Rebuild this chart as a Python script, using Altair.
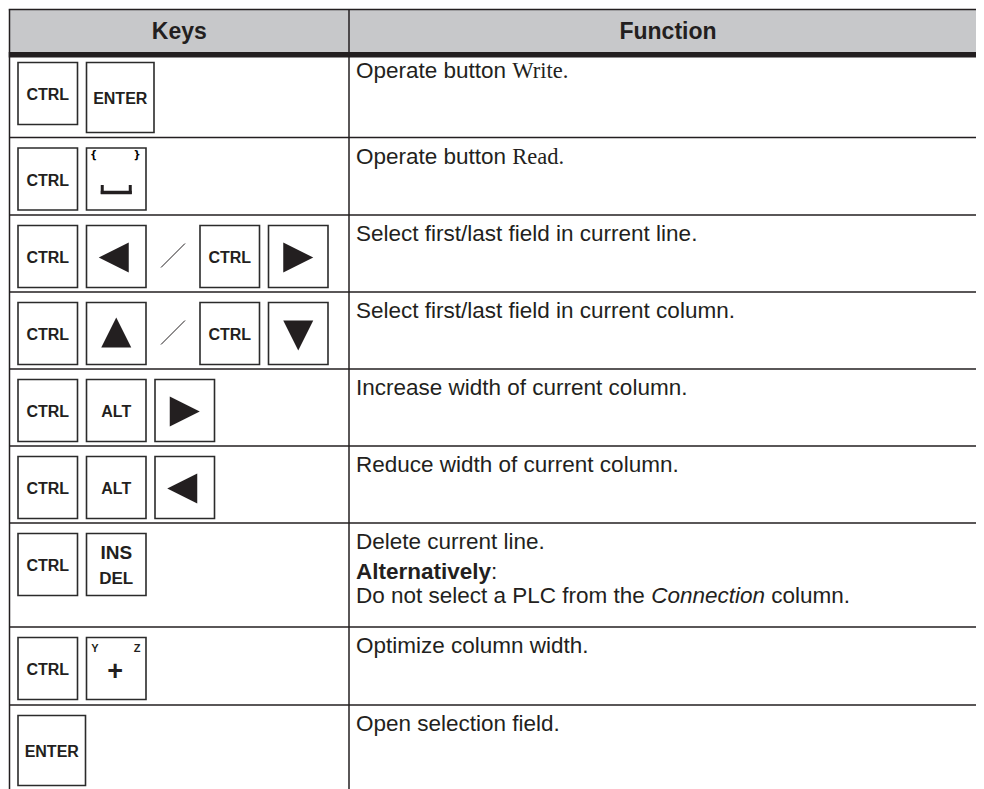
import altair as alt
import pandas as pd

# ---------------- content ----------------
HEADERS = ["Keys", "Function"]

KEY_ROWS = [
    ["CTRL", "ENTER"],
    ["CTRL", "SPACE"],
    ["CTRL", "LEFT", "/", "CTRL", "RIGHT"],
    ["CTRL", "UP", "/", "CTRL", "DOWN"],
    ["CTRL", "ALT", "RIGHT"],
    ["CTRL", "ALT", "LEFT"],
    ["CTRL", "INSDEL"],
    ["CTRL", "YZPLUS"],
    ["ENTER"],
]

# each row: list of lines; each line: list of (text, style) segments
FUNCTION_TEXT = [
    [[("Operate button ", "sans"), ("Write.", "serif")]],
    [[("Operate button ", "sans"), ("Read.", "serif")]],
    [[("Select first/last field in current line.", "sans")]],
    [[("Select first/last field in current column.", "sans")]],
    [[("Increase width of current column.", "sans")]],
    [[("Reduce width of current column.", "sans")]],
    [[("Delete current line.", "sans")],
     [("Alternatively", "bold"), (":", "sans")],
     [("Do not select a PLC from the ", "sans"), ("Connection", "italic"), (" column.", "sans")]],
    [[("Optimize column width.", "sans")]],
    [[("Open selection field.", "sans")]],
]

# ---------------- layout ----------------
ORIGIN = 8
W, H = 968, 781
INK = "#231f20"
HEADER_FILL = "#c7c8ca"
SANS = "Liberation Sans"
SERIF = "Liberation Serif"

TABLE_LEFT, TABLE_TOP, COL_DIV = 9.5, 9.5, 349
TABLE_RIGHT, TABLE_BOTTOM = 1000, 820
HEADER_BOTTOM, BAND_BOTTOM = 52, 57.5
ROW_TOPS = [52, 137.5, 215, 292, 369, 446, 523, 627, 705]
LINE_OFFSETS = [26, 56, 80]  # baselines of text lines below the row top

BODY_FS, HEAD_FS = 22.5, 23
TEXT_X = 356

KEY_X0, KEY_GAP, KEY_TOP_OFF = 18, 9, 10.5
KEY_W = {"ENTER": 67.5, "/": 36}
KEY_H = {"ENTER": 70}

REG = {' ': 278, '.': 278, ':': 278, '/': 278, 'a': 556, 'b': 556, 'c': 500, 'd': 556,
       'e': 556, 'f': 278, 'g': 556, 'h': 556, 'i': 222, 'j': 222, 'k': 500, 'l': 222,
       'm': 833, 'n': 556, 'o': 556, 'p': 556, 'q': 556, 'r': 333, 's': 500, 't': 278,
       'u': 556, 'v': 500, 'w': 722, 'x': 500, 'y': 500, 'z': 500, 'A': 667, 'C': 722,
       'D': 722, 'L': 556, 'O': 778, 'P': 667, 'S': 667, 'I': 278, 'R': 722}
BOLD = {'A': 722, 'l': 278, 't': 333, 'e': 556, 'r': 389, 'n': 611, 'a': 556, 'i': 278,
        'v': 556, 'y': 556, ':': 333}


def text_width(s, style, fs):
    table = BOLD if style == "bold" else REG
    return sum(table.get(c, 556) for c in s) / 1000.0 * fs


def X(f="x"):
    return alt.X(f"{f}:Q", scale=alt.Scale(domain=[ORIGIN, ORIGIN + W], nice=False, zero=False), axis=None)


def Y(f="y"):
    return alt.Y(f"{f}:Q", scale=alt.Scale(domain=[ORIGIN, ORIGIN + H], nice=False, zero=False, reverse=True), axis=None)


# ---------------- build tables ----------------
grid = [dict(x=TABLE_LEFT - 0.75, x2=TABLE_RIGHT, y=TABLE_TOP, y2=TABLE_TOP),
        dict(x=TABLE_LEFT, x2=TABLE_LEFT, y=TABLE_TOP, y2=TABLE_BOTTOM),
        dict(x=COL_DIV, x2=COL_DIV, y=TABLE_TOP, y2=TABLE_BOTTOM)]
for t in ROW_TOPS[1:]:
    grid.append(dict(x=TABLE_LEFT, x2=TABLE_RIGHT, y=t, y2=t))

keys, bold_labels, small_labels, tris, glyph_rules = [], [], [], [], []
TRI = {"LEFT": ("M-1,0L1,-1L1,1Z", -2.5, 32),
       "RIGHT": ("M1,0L-1,-1L-1,1Z", 0, 32),
       "UP": ("M0,-1L1,1L-1,1Z", 0, 30),
       "DOWN": ("M0,1L1,-1L-1,-1Z", 0, 33)}

for r, row in enumerate(KEY_ROWS):
    top = ROW_TOPS[r] + KEY_TOP_OFF
    x = KEY_X0
    for k in row:
        w = KEY_W.get(k, 59.5)
        h = KEY_H.get(k, 62)
        cx = x + w / 2
        if k == "/":
            glyph_rules.append(dict(x=cx - 12, y=top + 42, x2=cx + 12, y2=top + 18, sw=1.0))
        else:
            keys.append(dict(x=x, x2=x + w, y=top, y2=top + h))
            if k in ("CTRL", "ALT", "ENTER"):
                bold_labels.append(dict(x=cx, y=top + h / 2 + 1 + 0.36 * 16, text=k, fs=16))
            elif k in TRI:
                path, dx, dy = TRI[k]
                tris.append(dict(x=cx + dx, y=top + dy, shape=path, sz=900))
            elif k == "SPACE":
                small_labels.append(dict(x=x + 7, y=top + 10, text="{"))
                small_labels.append(dict(x=x + w - 9, y=top + 10, text="}"))
                glyph_rules.append(dict(x=cx - 15.5, y=top + 44.5, x2=cx + 15.5, y2=top + 44.5, sw=3.5))
                glyph_rules.append(dict(x=cx - 14, y=top + 37, x2=cx - 14, y2=top + 46, sw=3))
                glyph_rules.append(dict(x=cx + 14, y=top + 37, x2=cx + 14, y2=top + 46, sw=3))
            elif k == "INSDEL":
                bold_labels.append(dict(x=cx, y=top + 19 + 0.36 * 19, text="INS", fs=19))
                bold_labels.append(dict(x=cx, y=top + 44 + 0.36 * 17, text="DEL", fs=17))
            elif k == "YZPLUS":
                bold_labels.append(dict(x=x + 8.5, y=top + 14, text="Y", fs=11))
                bold_labels.append(dict(x=x + w - 9, y=top + 14, text="Z", fs=11))
                bold_labels.append(dict(x=cx - 1, y=top + 33.5 + 0.35 * 27, text="+", fs=27))
        x += w + KEY_GAP

texts = {"sans": [], "serif": [], "bold": [], "italic": []}
for r, lines in enumerate(FUNCTION_TEXT):
    for li, segs in enumerate(lines):
        x = TEXT_X
        y = ROW_TOPS[r] + LINE_OFFSETS[li]
        for s, style in segs:
            lead = len(s) - len(s.lstrip(" "))
            x += text_width(" " * lead, "sans", BODY_FS)
            body_s = s.lstrip(" ")
            texts[style].append(dict(x=x, y=y, text=body_s))
            x += text_width(body_s, style, BODY_FS)

headers = [dict(x=(TABLE_LEFT + COL_DIV) / 2, y=38.5, text=HEADERS[0]),
           dict(x=668, y=38.5, text=HEADERS[1])]

# ---------------- layers ----------------
header_bg = alt.Chart(pd.DataFrame([dict(x=TABLE_LEFT, x2=TABLE_RIGHT, y=TABLE_TOP, y2=HEADER_BOTTOM)])) \
    .mark_rect(color=HEADER_FILL).encode(x=X(), x2="x2:Q", y=Y(), y2="y2:Q")
band = alt.Chart(pd.DataFrame([dict(x=TABLE_LEFT - 0.75, x2=TABLE_RIGHT, y=HEADER_BOTTOM, y2=BAND_BOTTOM)])) \
    .mark_rect(color=INK).encode(x=X(), x2="x2:Q", y=Y(), y2="y2:Q")
grid_layer = alt.Chart(pd.DataFrame(grid)).mark_rule(color=INK, strokeWidth=1.5) \
    .encode(x=X(), x2="x2:Q", y=Y(), y2="y2:Q")
key_layer = alt.Chart(pd.DataFrame(keys)).mark_rect(fill="white", stroke="#2b2b2b", strokeWidth=1.6) \
    .encode(x=X(), x2="x2:Q", y=Y(), y2="y2:Q")
glyph_layer = alt.Chart(pd.DataFrame(glyph_rules)).mark_rule(color=INK, strokeCap="butt") \
    .encode(x=X(), x2="x2:Q", y=Y(), y2="y2:Q", strokeWidth=alt.StrokeWidth("sw:Q", scale=None))
tri_layer = alt.Chart(pd.DataFrame(tris)).mark_point(filled=True, opacity=1, color=INK, strokeWidth=0) \
    .encode(x=X(), y=Y(), shape=alt.Shape("shape:N", scale=None), size=alt.Size("sz:Q", scale=None))
label_layer = alt.Chart(pd.DataFrame(bold_labels)).mark_text(
    font=SANS, fontWeight="bold", align="center", baseline="alphabetic", color=INK) \
    .encode(x=X(), y=Y(), text="text:N", size=alt.Size("fs:Q", scale=None))
small_layer = alt.Chart(pd.DataFrame(small_labels)).mark_text(
    font="DejaVu Sans", fontSize=10, fontWeight="bold", align="center", baseline="alphabetic", color="#000000") \
    .encode(x=X(), y=Y(), text="text:N")
header_layer = alt.Chart(pd.DataFrame(headers)).mark_text(
    font=SANS, fontWeight="bold", fontSize=HEAD_FS, align="center", baseline="alphabetic", color=INK) \
    .encode(x=X(), y=Y(), text="text:N")


def body(style_rows, **kw):
    return alt.Chart(pd.DataFrame(style_rows)).mark_text(
        fontSize=BODY_FS, align="left", baseline="alphabetic", color=INK, **kw) \
        .encode(x=X(), y=Y(), text="text:N")


sans_layer = body(texts["sans"], font=SANS)
serif_layer = body(texts["serif"], font=SERIF)
bold_layer = body(texts["bold"], font=SANS, fontWeight="bold")
italic_layer = body(texts["italic"], font=SANS, fontStyle="italic")

chart = alt.layer(
    header_bg, band, key_layer, grid_layer, glyph_layer, tri_layer,
    label_layer, small_layer, header_layer,
    sans_layer, serif_layer, bold_layer, italic_layer,
).properties(width=W, height=H, padding=0, autosize="none", background="white") \
    .configure_view(stroke=None)

chart.save("out.html", embed_options={"renderer": "svg", "actions": False})
